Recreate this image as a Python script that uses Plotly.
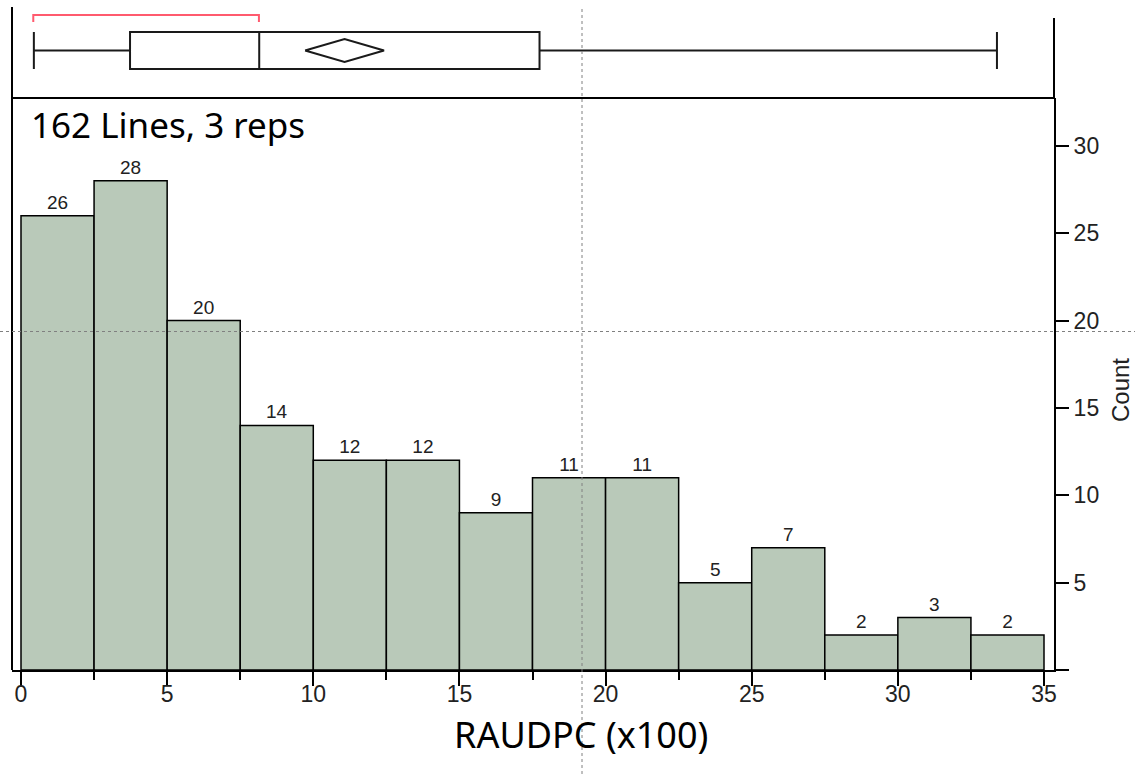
import plotly.graph_objects as go

# ---- data ----
bin_left = [0, 2.5, 5, 7.5, 10, 12.5, 15, 17.5, 20, 22.5, 25, 27.5, 30, 32.5]
bin_width = 2.5
counts = [26, 28, 20, 14, 12, 12, 9, 11, 11, 5, 7, 2, 3, 2]

box_min = 0.44
box_q1 = 3.73
box_median = 8.15
box_q3 = 17.74
box_max = 33.39
mean_value = 11.07
mean_ci = [9.72, 12.42]
shortest_half = [0.42, 8.14]

x_tick_vals = [0, 5, 10, 15, 20, 25, 30, 35]
x_tick_text = ["0", "5", "10", "15", "20", "25", "30", "35"]
x_minor_vals = [2.5, 7.5, 12.5, 17.5, 22.5, 27.5, 32.5]
y_tick_vals = [0, 5, 10, 15, 20, 25, 30]
y_tick_text = ["", "5", "10", "15", "20", "25", "30"]

subtitle = "162 Lines, 3 reps"
x_title = "RAUDPC (x100)"
y_title = "Count"

# ---- layout constants ----
W, H = 1135, 774
ML, MR, MT, MB = 12, 81, 7, 104
hist_top = 0.8627
box_pos = 0.522
box_w = 0.407
dia_h = 0.126

TICKFONT = dict(family="Liberation Sans, Arial, sans-serif", size=23, color="#222")

fig = go.Figure()

fig.add_trace(go.Bar(
    x=bin_left, y=counts, width=bin_width, offset=0,
    marker=dict(color="#b9c9b9", line=dict(color="black", width=1.5)),
    text=counts, textposition="outside", cliponaxis=False,
    textfont=dict(family="Liberation Sans, Arial, sans-serif", size=19, color="#222"),
    xaxis="x", yaxis="y", hoverinfo="skip", showlegend=False,
))

fig.add_trace(go.Box(
    y=[box_pos], q1=[box_q1], median=[box_median], q3=[box_q3],
    lowerfence=[box_min], upperfence=[box_max], orientation="h",
    width=box_w, whiskerwidth=1, fillcolor="white",
    line=dict(color="#1a1a1a", width=2), boxpoints=False,
    xaxis="x", yaxis="y2", hoverinfo="skip", showlegend=False,
))

fig.add_trace(go.Scatter(
    x=[mean_ci[0], mean_value, mean_ci[1], mean_value, mean_ci[0]],
    y=[box_pos, box_pos + dia_h, box_pos, box_pos - dia_h, box_pos],
    mode="lines", line=dict(color="#1a1a1a", width=2),
    xaxis="x", yaxis="y2", hoverinfo="skip", showlegend=False,
))

fig.add_trace(go.Scatter(
    x=[shortest_half[0], shortest_half[0], shortest_half[1], shortest_half[1]],
    y=[0.835, 0.912, 0.912, 0.835],
    mode="lines", line=dict(color="#ff5a6e", width=2),
    xaxis="x", yaxis="y2", hoverinfo="skip", showlegend=False,
))

def px_x(px):
    return (px - ML) / (W - ML - MR)

def px_y(py):
    return (H - MB - py) / (H - MB - MT)

fig.update_layout(
    width=W, height=H,
    margin=dict(l=ML, r=MR, t=MT, b=MB),
    paper_bgcolor="white", plot_bgcolor="white",
    showlegend=False,
    xaxis=dict(
        domain=[0, 1], range=[-0.308, 35.342], anchor="y",
        tickmode="array", tickvals=x_tick_vals, ticktext=x_tick_text,
        ticks="outside", ticklen=14, tickwidth=1.5, tickcolor="black",
        ticklabelstandoff=-12,
        showline=True, linecolor="black", linewidth=2,
        showgrid=False, zeroline=False, tickfont=TICKFONT,
        minor=dict(tickmode="array", tickvals=x_minor_vals, ticks="outside",
                   ticklen=8, tickwidth=1.5, tickcolor="black", showgrid=False),
    ),
    yaxis=dict(
        domain=[0, hist_top], range=[0, 32.74], anchor="x", side="right",
        tickmode="array", tickvals=y_tick_vals, ticktext=y_tick_text,
        ticks="outside", ticklen=13, tickwidth=1.5, tickcolor="black",
        showline=True, linecolor="black", linewidth=2,
        showgrid=False, zeroline=False, tickfont=TICKFONT,
    ),
    yaxis2=dict(domain=[hist_top, 1], range=[0, 1], anchor="x", visible=False),
    annotations=[
        dict(text=subtitle, xref="paper", yref="paper", x=px_x(29), y=px_y(124),
             xanchor="left", yanchor="middle", showarrow=False,
             font=dict(family="Noto Sans, sans-serif", size=35, color="black")),
        dict(text=x_title, xref="paper", yref="paper", x=px_x(581), y=px_y(734),
             xanchor="center", yanchor="middle", showarrow=False,
             font=dict(family="Noto Sans, sans-serif", size=36, color="black")),
        dict(text=y_title, xref="paper", yref="paper", x=px_x(1121), y=px_y(390),
             xanchor="center", yanchor="middle", showarrow=False, textangle=-90,
             font=dict(family="Liberation Sans, Arial, sans-serif", size=24, color="#222")),
    ],
    shapes=[
        dict(type="line", xref="paper", yref="paper", x0=0, x1=0, y0=0, y1=1,
             line=dict(color="black", width=2)),
        dict(type="line", xref="paper", yref="paper", x0=0, x1=1, y0=hist_top, y1=hist_top,
             line=dict(color="black", width=2)),
        dict(type="line", xref="paper", yref="paper", x0=1, x1=1, y0=hist_top, y1=px_y(18),
             line=dict(color="black", width=2)),
        dict(type="line", xref="paper", yref="paper", x0=px_x(0), x1=px_x(W),
             y0=px_y(331.5), y1=px_y(331.5), layer="above",
             line=dict(color="#808080", width=1, dash="dot")),
        dict(type="line", xref="paper", yref="paper", x0=px_x(582), x1=px_x(582),
             y0=px_y(H), y1=px_y(8), layer="above",
             line=dict(color="#808080", width=1, dash="dot")),
    ],
)

fig.write_html("out.html", config={"displayModeBar": False},
               post_script="document.body.style.margin='0';document.body.style.overflow='hidden';")
